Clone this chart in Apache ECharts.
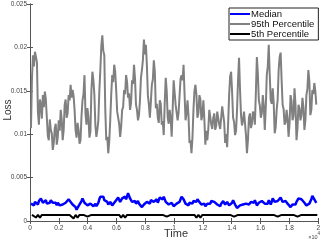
<!DOCTYPE html>
<html><head><meta charset="utf-8">
<script src="https://cdn.jsdelivr.net/npm/echarts@6/dist/echarts.min.js"></script>
<style>html,body{margin:0;padding:0;background:#fff}#c{width:323px;height:242px}</style>
</head><body><div id="c"></div>
<script>
// sample spacing (iterations)
const fineStep = 68.75;
const coarseStep = 137.5;

const xTicks = ['0','0.2','0.4','0.6','0.8','1','1.2','1.4','1.6','1.8','2'];
const yTicks = ['0','0.005','0.01','0.015','0.02','0.025'];

const p95 = [0.0107,0.0165,0.0191,0.0178,0.0195,0.0197,0.0183,0.0125,0.0111,0.0140,
0.0134,0.0118,0.0145,0.0131,0.0149,0.0140,0.0119,0.0098,0.0093,0.0117,
0.0105,0.0101,0.0082,0.0090,0.0107,0.0112,0.0088,0.0096,0.0116,0.0104,
0.0128,0.0117,0.0093,0.0105,0.0134,0.0140,0.0119,0.0124,0.0145,0.0139,
0.0157,0.0142,0.0151,0.0144,0.0128,0.0105,0.0096,0.0113,0.0105,0.0089,
0.0093,0.0121,0.0139,0.0146,0.0168,0.0124,0.0111,0.0130,0.0119,0.0096,
0.0103,0.0151,0.0172,0.0162,0.0145,0.0110,0.0097,0.0105,0.0116,0.0150,
0.0174,0.0202,0.0214,0.0196,0.0191,0.0128,0.0093,0.0097,0.0078,0.0092,
0.0116,0.0146,0.0168,0.0160,0.0180,0.0172,0.0151,0.0126,0.0119,0.0112,
0.0097,0.0108,0.0128,0.0131,0.0151,0.0146,0.0168,0.0160,0.0142,0.0147,
0.0128,0.0136,0.0162,0.0158,0.0180,0.0164,0.0134,0.0128,0.0116,0.0122,
0.0139,0.0165,0.0174,0.0186,0.0209,0.0192,0.0203,0.0179,0.0145,0.0134,
0.0119,0.0137,0.0157,0.0163,0.0185,0.0172,0.0130,0.0135,0.0119,0.0113,
0.0139,0.0135,0.0111,0.0115,0.0099,0.0136,0.0165,0.0150,0.0119,0.0112,
0.0128,0.0119,0.0097,0.0128,0.0162,0.0148,0.0134,0.0133,0.0116,0.0125,
0.0145,0.0164,0.0168,0.0162,0.0180,0.0147,0.0116,0.0124,0.0139,0.0121,
0.0090,0.0093,0.0078,0.0096,0.0128,0.0150,0.0157,0.0145,0.0119,0.0124,
0.0145,0.0140,0.0116,0.0122,0.0139,0.0117,0.0088,0.0104,0.0093,0.0106,
0.0128,0.0126,0.0111,0.0106,0.0119,0.0124,0.0105,0.0110,0.0126,0.0125,
0.0111,0.0106,0.0119,0.0132,0.0131,0.0114,0.0090,0.0100,0.0085,0.0112,
0.0145,0.0166,0.0172,0.0149,0.0119,0.0114,0.0099,0.0104,0.0128,0.0162,
0.0188,0.0152,0.0122,0.0110,0.0116,0.0126,0.0113,0.0099,0.0078,0.0093,
0.0119,0.0124,0.0107,0.0112,0.0126,0.0123,0.0111,0.0148,0.0189,0.0170,
0.0139,0.0133,0.0119,0.0124,0.0145,0.0132,0.0105,0.0131,0.0168,0.0178,
0.0203,0.0168,0.0139,0.0135,0.0153,0.0136,0.0101,0.0108,0.0128,0.0140,
0.0174,0.0189,0.0194,0.0162,0.0134,0.0129,0.0111,0.0114,0.0128,0.0118,
0.0097,0.0112,0.0145,0.0138,0.0116,0.0121,0.0153,0.0134,0.0093,0.0107,
0.0134,0.0130,0.0116,0.0122,0.0142,0.0131,0.0105,0.0116,0.0145,0.0152,
0.0174,0.0161,0.0122,0.0128,0.0151,0.0146,0.0159,0.0150,0.0134];

const median = [0.0020,0.0022,0.0019,0.0018,0.0022,0.0023,0.0020,0.0019,0.0023,0.0022,0.0026,0.0025,0.0021,0.0020,0.0023,0.0024,0.0020,0.0019,0.0022,0.0021,
0.0024,0.0025,0.0021,0.0020,0.0022,0.0021,0.0018,0.0021,0.0020,0.0018,0.0017,0.0020,0.0019,0.0017,0.0018,0.0021,0.0023,0.0022,0.0025,0.0024,
0.0022,0.0021,0.0019,0.0020,0.0017,0.0016,0.0013,0.0015,0.0017,0.0016,0.0019,0.0023,0.0026,0.0024,0.0021,0.0022,0.0019,0.0018,0.0017,0.0019,
0.0020,0.0021,0.0018,0.0017,0.0019,0.0020,0.0017,0.0018,0.0021,0.0025,0.0028,0.0027,0.0030,0.0028,0.0024,0.0023,0.0025,0.0022,0.0019,0.0021,
0.0022,0.0021,0.0018,0.0019,0.0021,0.0023,0.0024,0.0024,0.0027,0.0026,0.0022,0.0023,0.0026,0.0025,0.0028,0.0028,0.0025,0.0027,0.0032,0.0029,
0.0026,0.0025,0.0022,0.0021,0.0024,0.0023,0.0020,0.0021,0.0023,0.0020,0.0018,0.0019,0.0016,0.0017,0.0019,0.0018,0.0021,0.0022,0.0023,0.0021,
0.0020,0.0024,0.0026,0.0023,0.0022,0.0023,0.0024,0.0025,0.0021,0.0023,0.0027,0.0026,0.0025,0.0025,0.0028,0.0026,0.0022,0.0023,0.0020,0.0019,
0.0018,0.0020,0.0021,0.0020,0.0017,0.0017,0.0019,0.0020,0.0018,0.0019,0.0022,0.0025,0.0028,0.0027,0.0025,0.0023,0.0020,0.0021,0.0018,0.0018,
0.0021,0.0021,0.0019,0.0020,0.0023,0.0023,0.0021,0.0022,0.0025,0.0024,0.0022,0.0021,0.0019,0.0018,0.0021,0.0020,0.0017,0.0019,0.0020,0.0019,
0.0018,0.0020,0.0023,0.0024,0.0025,0.0022,0.0020,0.0021,0.0019,0.0020,0.0018,0.0017,0.0020,0.0022,0.0023,0.0021,0.0019,0.0020,0.0022,0.0021,
0.0018,0.0019,0.0020,0.0021,0.0024,0.0022,0.0019,0.0018,0.0015,0.0016,0.0017,0.0018,0.0016,0.0017,0.0019,0.0018,0.0017,0.0020,0.0021,0.0021,
0.0019,0.0020,0.0022,0.0022,0.0020,0.0021,0.0024,0.0022,0.0018,0.0019,0.0021,0.0022,0.0023,0.0023,0.0025,0.0024,0.0020,0.0019,0.0018,0.0020,
0.0024,0.0022,0.0019,0.0022,0.0026,0.0025,0.0022,0.0021,0.0020,0.0023,0.0025,0.0025,0.0027,0.0026,0.0022,0.0022,0.0024,0.0023,0.0021,0.0020,
0.0018,0.0018,0.0016,0.0017,0.0019,0.0019,0.0017,0.0019,0.0022,0.0023,0.0026,0.0026,0.0024,0.0025,0.0027,0.0025,0.0021,0.0020,0.0018,0.0018,
0.0019,0.0020,0.0022,0.0025,0.0029,0.0027,0.0025,0.0024,0.0021];

const p5 = [0.0007,0.0007,0.0004,0.0007,0.0004,0.0007,0.0007,0.0007,0.0005,0.0007,
0.0005,0.0007,0.0007,0.0007,0.0007,0.0007,0.0007,0.0007,0.0007,0.0007,
0.0007,0.0003,0.0007,0.0004,0.0007,0.0007,0.0007,0.0007,0.0005,0.0007,
0.0007,0.0007,0.0007,0.0007,0.0007,0.0007,0.0007,0.0007,0.0007,0.0007,
0.0007,0.0007,0.0007,0.0007,0.0007,0.0004,0.0007,0.0004,0.0007,0.0007,
0.0007,0.0007,0.0007,0.0007,0.0007,0.0007,0.0007,0.0007,0.0007,0.0005,
0.0007,0.0007,0.0007,0.0007,0.0007,0.0007,0.0007,0.0007,0.0005,0.0007,
0.0007,0.0007,0.0007,0.0007,0.0007,0.0007,0.0007,0.0007,0.0007,0.0007,
0.0007,0.0007,0.0007,0.0004,0.0007,0.0004,0.0007,0.0007,0.0007,0.0007,
0.0007,0.0007,0.0007,0.0007,0.0007,0.0007,0.0007,0.0007,0.0007,0.0007,
0.0007,0.0007,0.0005,0.0007,0.0007,0.0007,0.0007,0.0007,0.0007,0.0007,
0.0007,0.0007,0.0007,0.0007,0.0007,0.0007,0.0007,0.0007,0.0007,0.0007,
0.0007,0.0007,0.0007,0.0007,0.0005,0.0007,0.0007,0.0007,0.0007,0.0007,
0.0007,0.0007,0.0007,0.0007,0.0005,0.0007,0.0007,0.0007,0.0007,0.0007,
0.0007,0.0007,0.0007,0.0007,0.0007];

const seriesNames = ['Median','95th Percentile','5th Percentile'];
const seriesColors = ['#0000ff','#808080','#000000'];

const pair = (arr, step) => arr.map((v, i) => [(i + 1) * step, v]);
const font = 'Liberation Sans, Arial, sans-serif';
const axisLine = {show: true, lineStyle: {color: '#555', width: 1}};
const tick = {show: true, inside: true, length: 3, lineStyle: {color: '#555'}};

const chart = echarts.init(document.getElementById('c'), null, {renderer: 'canvas'});
chart.setOption({
  animation: false,
  backgroundColor: '#fff',
  grid: {left: 30, right: 3, top: 4, bottom: 21, containLabel: false},
  xAxis: [{
    type: 'value', min: 0, max: 20000, interval: 2000,
    axisLine, axisTick: tick, splitLine: {show: false},
    axisLabel: {fontSize: 6.5, color: '#444', fontFamily: font, margin: 4,
      formatter: v => xTicks[Math.round(v / 2000)]}
  }, {
    type: 'value', position: 'top', min: 0, max: 20000, interval: 2000,
    axisLine, axisTick: tick, axisLabel: {show: false}, splitLine: {show: false}
  }],
  yAxis: [{
    type: 'value', min: 0, max: 0.025, interval: 0.005,
    axisLine, axisTick: tick, splitLine: {show: false},
    axisLabel: {fontSize: 6.5, color: '#444', fontFamily: font, margin: 3,
      formatter: v => yTicks[Math.round(v / 0.005)]}
  }, {
    type: 'value', position: 'right', min: 0, max: 0.025, interval: 0.005,
    axisLine, axisTick: tick, axisLabel: {show: false}, splitLine: {show: false}
  }],
  legend: {
    orient: 'vertical', left: 229, top: 8,
    data: seriesNames,
    icon: 'rect', itemWidth: 20, itemHeight: 2, itemGap: 0,
    padding: [1, 4, 1, 1],
    borderColor: '#222', borderWidth: 1, backgroundColor: '#fff',
    textStyle: {fontSize: 9.5, color: '#111', fontFamily: font, lineHeight: 10, padding: [0, 0, 0, -4]}
  },
  series: [
    {name: seriesNames[1], type: 'line', data: pair(p95, fineStep), showSymbol: false, symbol: 'none',
     lineStyle: {color: seriesColors[1], width: 2}, itemStyle: {color: seriesColors[1]}, z: 2},
    {name: seriesNames[0], type: 'line', data: pair(median, fineStep), showSymbol: false, symbol: 'none',
     lineStyle: {color: seriesColors[0], width: 2.5}, itemStyle: {color: seriesColors[0]}, z: 3},
    {name: seriesNames[2], type: 'line', data: pair(p5, coarseStep), showSymbol: false, symbol: 'none',
     lineStyle: {color: seriesColors[2], width: 2}, itemStyle: {color: seriesColors[2]}, z: 4}
  ],
  graphic: [
    {type: 'text', left: 164, top: 228, style: {text: 'Time', fontSize: 11, fill: '#333', fontFamily: font}},
    {type: 'text', x: 8, y: 110, rotation: Math.PI / 2, style: {text: 'Loss', fontSize: 10, fill: '#333', fontFamily: font, align: 'center', verticalAlign: 'middle'}},
    {type: 'text', right: 3, top: 231, style: {
      text: '{a|×10}{b|4}', fontFamily: font,
      rich: {a: {fontSize: 5.5, fill: '#444', padding: [3, 0, 0, 0]}, b: {fontSize: 4.5, fill: '#444', verticalAlign: 'top'}}}}
  ]
});
</script></body></html>
